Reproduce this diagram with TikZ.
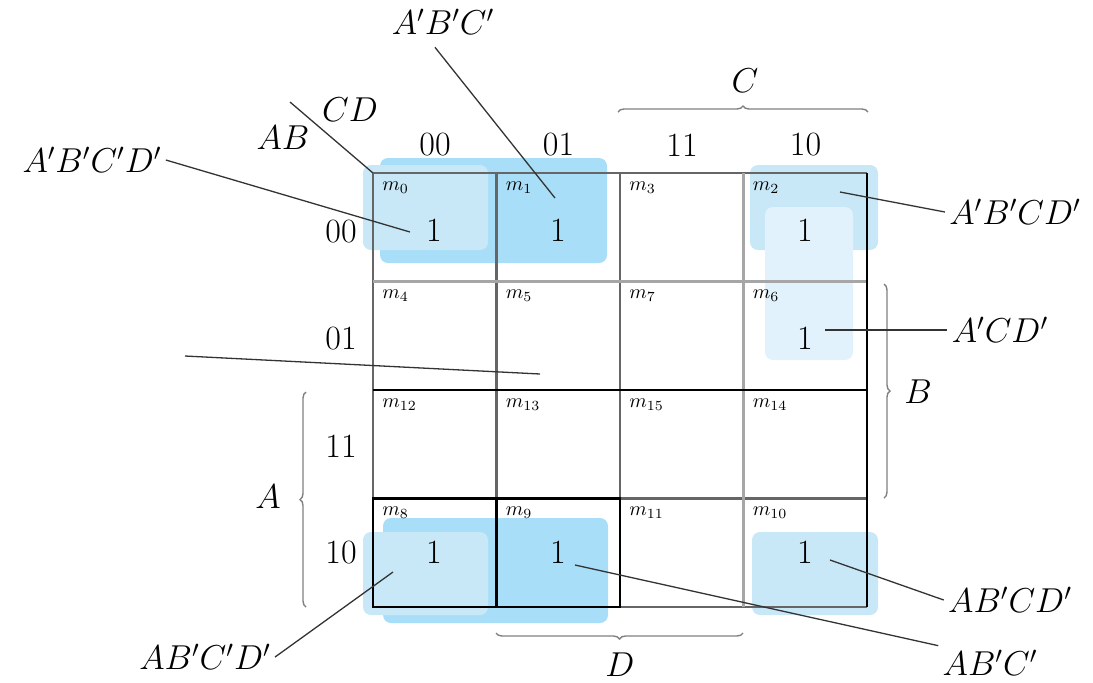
\documentclass[tikz,border=0pt]{standalone}
\usepackage{tikz}
\usetikzlibrary{positioning,decorations.pathreplacing}
\definecolor{kdark}{RGB}{168,222,248}
\definecolor{klight}{RGB}{200,232,248}
\definecolor{kpale}{RGB}{225,242,252}
\tikzset{
    grp/.style={rounded corners=4pt},
    gridline/.style={draw=black!60, line width=1.3pt},
    boxline/.style={draw=black, line width=1.3pt},
    minterm/.style={anchor=north west, inner sep=1pt, font=\fontsize{10}{11}\selectfont},
    big/.style={font=\fontsize{17}{20}\selectfont, inner sep=2pt},
    callout/.style={draw=black!80, line width=0.65pt},
    kbrace/.style={draw=black!50, line width=0.7pt, decorate, decoration={brace, amplitude=3pt}}
}

\begin{document}
\begin{tikzpicture}[x=0.5pt, y=-0.5pt]
    \useasboundingbox (0,0) rectangle (1093,682);

    % groups of ones
    \fill[grp, kdark] (380,158) rectangle (607,263);
    \fill[grp, klight] (363,165) rectangle (488,250);
    \fill[grp, klight] (750,165) rectangle (878,250);
    \fill[grp, kpale] (765,207) rectangle (853,360);
    \fill[grp, kdark] (383,518) rectangle (608,623);
    \fill[grp, klight] (363,532) rectangle (488,615);
    \fill[grp, klight] (752,532) rectangle (878,615);

    % grid
    \foreach \i in {0,...,4} {
        \coordinate (top\i) at ({373+123.5*\i},173);
        \coordinate (bot\i) at ({373+123.5*\i},607);
        \coordinate (lft\i) at (373,{173+108.5*\i});
        \coordinate (rgt\i) at (867,{173+108.5*\i});
    }
    \foreach \i in {0,...,4} {
        \draw[gridline] (top\i) -- (bot\i);
        \draw[gridline] (lft\i) -- (rgt\i);
    }
    \draw[gridline, draw=black!35] (top3) -- (bot3);
    \draw[gridline, draw=black!35] (lft1) -- (rgt1);
    \draw[boxline] (lft2) -- (rgt2);
    \draw[boxline] (top4) -- (bot4);
    \draw[boxline] (lft3) rectangle (bot2);
    \draw[boxline] (top1 |- lft3) -- (bot1);

    % minterms
    \foreach \m [count=\c from 0] in {0,1,3,2}
        \node[minterm] (m\m) at ({380+123.5*\c},179) {$m_{\m}$};
    \foreach \m [count=\c from 0] in {4,5,7,6}
        \node[minterm] (m\m) at ({380+123.5*\c},287.5) {$m_{\m}$};
    \foreach \m [count=\c from 0] in {12,13,15,14}
        \node[minterm] (m\m) at ({380+123.5*\c},396) {$m_{\m}$};
    \foreach \m [count=\c from 0] in {8,9,11,10}
        \node[minterm] (m\m) at ({380+123.5*\c},504.5) {$m_{\m}$};

    % ones
    \node[big] (o0) at (434,230) {1};
    \node[big] (o1) at (558,230) {1};
    \node[big] (o2) at (805,230) {1};
    \node[big] (o6) at (805,338) {1};
    \node[big] (o8) at (434,552) {1};
    \node[big] (o9) at (558,552) {1};
    \node[big] (o10) at (805,552) {1};

    % headings
    \foreach \t [count=\c from 0] in {00,01,11,10} {
        \node[big] (col\t) at ({435+123.5*\c},145) {\t};
        \node[big] (row\t) at (341,{232+107*\c}) {\t};
    }
    \node[big] (cd) at (350,110) {$CD$};
    \node[big] (ab) at (283,138) {$AB$};
    \coordinate (diag) at (290,102);
    \draw[callout] (diag) -- (lft0);

    % braces
    \draw[kbrace] (618,112) -- (868,112);
    \node[big] (lc) at (745,81) {$C$};
    \draw[kbrace] (884,284) -- (884,498);
    \node[big] (lb) at (918,392) {$B$};
    \draw[kbrace] (306,607) -- (306,392);
    \node[big] (la) at (268,497) {$A$};
    \draw[kbrace] (743,633) -- (496,633);
    \node[big] (ld) at (620,665) {$D$};

    % terms
    \node[big] (t1) at (443,22) {$A'B'C'$};
    \node[big] (t2) at (92,160) {$A'B'C'D'$};
    \node[big] (t3) at (1015,212) {$A'B'CD'$};
    \node[big] (t4) at (1000,330) {$A'CD'$};
    \node[big] (t5) at (1010,600) {$AB'CD'$};
    \node[big] (t6) at (990,663) {$AB'C'$};
    \node[big] (t7) at (205,657) {$AB'C'D'$};

    \coordinate (p1) at (555,198);
    \coordinate (p2) at (410,232);
    \coordinate (p3) at (840,192);
    \coordinate (p4) at (825,330);
    \coordinate (p5) at (830,560);
    \coordinate (p6) at (575,565);
    \coordinate (p7) at (393,572);
    \coordinate (q1) at (185,356);
    \coordinate (q2) at (540,374);

    \draw[callout] ([xshift=-4pt, yshift=-4pt]t1.south) -- (p1);
    \draw[callout] (t2.east) -- (p2);
    \draw[callout] (p3) -- (t3.west);
    \draw[callout] (p4) -- (t4.west);
    \draw[callout] (p5) -- (t5.west);
    \draw[callout] (p6) -- (t6.north west);
    \draw[callout] (t7.east) -- (p7);
    \draw[callout] (q1) -- (q2);
\end{tikzpicture}
\end{document}
